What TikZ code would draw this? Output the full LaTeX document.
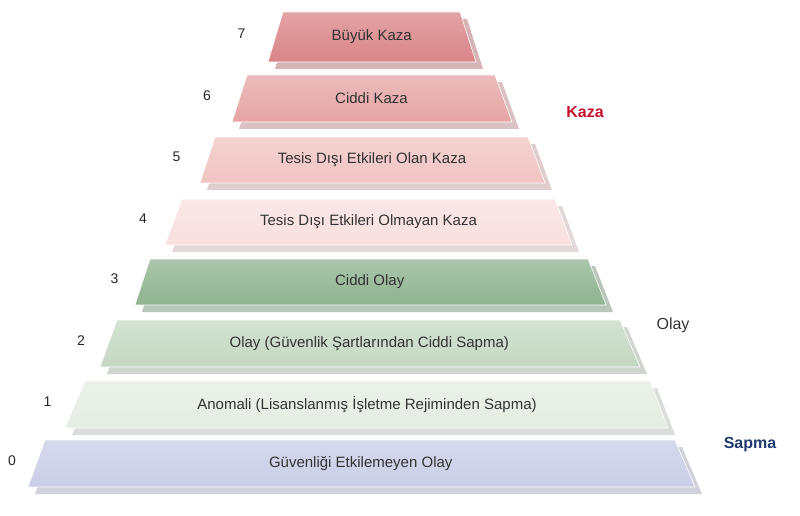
\documentclass[tikz,border=0pt]{standalone}
\usepackage{fontspec}
\setmainfont{Liberation Sans}
\definecolor{kazaA}{HTML}{D98588}
\definecolor{kazaB}{HTML}{E6A5A5}
\definecolor{kazaC}{HTML}{F0C4C2}
\definecolor{kazaD}{HTML}{F8E0DE}
\definecolor{olayA}{HTML}{8FB390}
\definecolor{olayB}{HTML}{C5D8C3}
\definecolor{olayC}{HTML}{E4EDE2}
\definecolor{sapmaA}{HTML}{C9CDE6}
\definecolor{kazared}{HTML}{C8102E}
\definecolor{sapmablue}{HTML}{1F3A70}
\tikzset{
  inesstep/.style={draw=white, line width=0.6pt},
  stepshadow/.style={opacity=0.5},
  steplabel/.style={font=\fontsize{15}{17}\selectfont, text=black!80},
  levelnum/.style={font=\fontsize{14}{16}\selectfont, text=black!85},
  grouplabel/.style={font=\bfseries\fontsize{16}{19}\selectfont}
}
\begin{document}
\begin{tikzpicture}[x=1pt, y=-1pt]
  \useasboundingbox (0,0) rectangle (800,516);
  % Levels: number/top/bottom/top-left/top-right/bottom-left/bottom-right/colour/text
  \foreach \n/\yt/\yb/\xa/\xb/\xc/\xd/\col/\txt in {
      0/440/487/45/675/28/695/sapmaA/{Güvenliği Etkilemeyen Olay},
      1/381/428/85/650/65/668/olayC/{Anomali (Lisanslanmış İşletme Rejiminden Sapma)},
      2/320/367/117/620/100/640/olayB/{Olay (Güvenlik Şartlarından Ciddi Sapma)},
      3/259/305/150/588/135/606/olayA/{Ciddi Olay},
      4/199/245/182/555/165/572/kazaD/{Tesis Dışı Etkileri Olmayan Kaza},
      5/137/183/215/528/200/545/kazaC/{Tesis Dışı Etkileri Olan Kaza},
      6/75/122/247/495/232/512/kazaB/{Ciddi Kaza},
      7/12/62/283/460/268/476/kazaA/{Büyük Kaza}} {
    \fill[stepshadow, \col!80!black] (\xa+7,\yt+7) -- (\xb+7,\yt+7) -- (\xd+7,\yb+7) -- (\xc+7,\yb+7) -- cycle;
    \shade[inesstep, top color=\col!75!white, bottom color=\col] (\xa,\yt) -- (\xb,\yt) -- (\xd,\yb) -- (\xc,\yb) -- cycle;
    \node[steplabel] (lvl\n) at ({(\xa+\xb+\xc+\xd)/4},{(\yt+\yb)/2}) {\txt};
    \node[levelnum] (num\n) at ({\xc-\n*1.5-16},{(\yt+\yb)/2-3}) {\n};
  }
  % Groups
  \node[grouplabel, text=kazared] (kaza) at (585,112) {Kaza};
  \node[font=\fontsize{16}{19}\selectfont, text=black!80] (olay) at (673,325) {Olay};
  \node[grouplabel, text=sapmablue] (sapma) at (750,445) {Sapma};
\end{tikzpicture}
\end{document}
